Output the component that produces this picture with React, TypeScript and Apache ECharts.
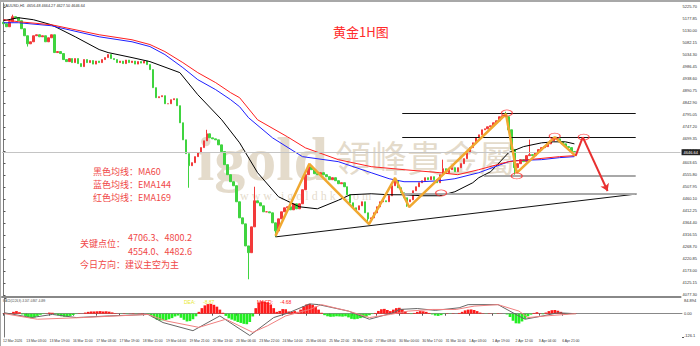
import React, { useEffect, useRef } from 'react';
import * as echarts from 'echarts';

// ---------- price data (2-hour bars) ----------
const firstOpen = 5165;
const closes = [
  5159, 5147, 5167, 5187, 5183, 5171, 5139, 5111, 5079, 5087,
  5111, 5115, 5107, 5111, 5087, 5103, 5115, 5044, 5048, 5040,
  5016, 5008, 5020, 5004, 5020, 5000, 4988, 5016, 5004, 5012,
  4998, 5010, 5004, 5016, 5024, 5036, 5020, 5016, 5004, 5010,
  5000, 5014, 5004, 5010, 4998, 5008, 5002, 5010, 4996, 4976,
  4904, 4864, 4868, 4872, 4840, 4840, 4856, 4860, 4832, 4764,
  4696, 4641, 4593, 4605, 4629, 4645, 4665, 4692, 4720, 4704,
  4700, 4696, 4676, 4649, 4597, 4557, 4529, 4513, 4449, 4385,
  4361, 4273, 4246, 4349, 4453, 4445, 4433, 4409, 4409, 4405,
  4365, 4333, 4381, 4409, 4425, 4429, 4417, 4441, 4421, 4441,
  4497, 4557, 4589, 4577, 4561, 4557, 4565, 4557, 4549, 4537,
  4545, 4533, 4521, 4525, 4509, 4477, 4445, 4425, 4417, 4433,
  4449, 4405, 4381, 4385, 4405, 4429, 4449, 4453, 4449, 4473,
  4513, 4533, 4505, 4485, 4465, 4449, 4457, 4493, 4509, 4525,
  4533, 4545, 4537, 4549, 4537, 4525, 4557, 4581, 4565, 4577,
  4585, 4569, 4585, 4601, 4621, 4645, 4665, 4684, 4704, 4716,
  4736, 4740, 4748, 4752, 4764, 4772, 4788, 4792, 4788, 4736,
  4657, 4585, 4601, 4617, 4609, 4633, 4637, 4633, 4645, 4657,
  4665, 4669, 4680, 4692, 4700, 4700, 4688, 4680, 4669, 4665,
  4649, 4647,
];
const wickHighs: [number, number][] = [
  [3, 5195], [68, 4736], [84, 4509], [102, 4601], [131, 4545], [147, 4617], [168, 4808], [176, 4697], [185, 4708],
];
const wickLows: [number, number][] = [
  [8, 5068], [62, 4505], [82, 4140], [91, 4309], [122, 4361], [135, 4429], [171, 4557],
];
const currentPrice = 4646.64;

// moving averages: [bar index, price]
const ma60Pts: [number, number][] = [
  [0, 5171], [5, 5183], [10, 5175], [16, 5155], [24, 5107], [32, 5056], [35, 5044], [43, 5024], [49, 5008],
  [59, 4964], [65, 4876], [73, 4776], [79, 4684], [85, 4565], [92, 4469], [99, 4429], [105, 4421], [112, 4455],
  [116, 4477], [123, 4481], [129, 4477], [134, 4477], [140, 4473], [146, 4473], [151, 4489], [157, 4525],
  [159, 4545], [163, 4569], [169, 4645], [174, 4669], [180, 4684], [184, 4688], [188, 4688], [191, 4680],
];
const ema144Pts: [number, number][] = [
  [0, 5163], [5, 5163], [16, 5151], [32, 5107], [43, 5087], [49, 5068], [54, 5036], [60, 4984], [65, 4936],
  [71, 4896], [76, 4856], [79, 4828], [82, 4784], [90, 4704], [100, 4629], [112, 4609], [123, 4565], [129, 4541],
  [134, 4529], [140, 4529], [146, 4533], [151, 4541], [159, 4565], [169, 4609], [171, 4613], [180, 4617],
  [186, 4625], [191, 4629],
];
const ema169Pts: [number, number][] = [
  [0, 5175], [5, 5167], [16, 5155], [32, 5115], [43, 5095], [49, 5076], [54, 5048], [60, 5004], [65, 4964],
  [71, 4924], [76, 4884], [79, 4864], [85, 4776], [95, 4708], [101, 4664], [112, 4617], [123, 4589], [134, 4577],
  [146, 4565], [152, 4557], [159, 4577], [169, 4609], [186, 4629], [191, 4633],
];

// analysis drawings: [bar index, price]
const zigzagPts: [number, number][] = [
  [91.0, 4313], [102.3, 4600], [122.3, 4360], [131.0, 4544], [135.7, 4428], [168.1, 4799], [171.7, 4564], [184.4, 4707], [191.4, 4632],
];
const forecastPts: [number, number][] = [[191.4, 4632], [193.8, 4707]];
const forecastArrow: [number, number][] = [[193.8, 4707], [202.1, 4492]];
const trendLine: [number, number][] = [[91.0, 4309], [211.8, 4480]];
const keyLevels = [4800.2, 4706.3, 4554.0, 4482.6];
const levelStarts = [133.4, 133.4, 160.7, 133.4];
const levelEnd = 211.5;
const circlePts: [number, number][] = [[168.4, 4803], [171.7, 4552], [184.4, 4711], [194.1, 4707], [146.4, 4484]];

// price axis tick labels
const priceTicks = [
  5225.70, 5177.85, 5130.00, 5082.15, 5034.30, 4986.45, 4938.60, 4890.75, 4842.90, 4795.05,
  4747.20, 4699.35, 4651.50, 4603.65, 4555.80, 4507.95, 4460.10, 4412.25, 4364.40, 4316.55,
  4268.70, 4220.85, 4173.00, 4125.15, 4077.30,
];

// MACD
const macdHist = [
  2, -2, 3, 10, 14, 8, -4, -12, -20, -25,
  -20, -12, -6, -2, 1, 6, 5, -4, -9, -14,
  -17, -16, -12, -7, -2, 2, 1, 6, 10, 12,
  12, 13, 14, 12, 13, 11, 7, 3, 1, -1,
  2, -2, 1, 2, -1, 1, 2, 0, -2, -10,
  -22, -33, -37, -36, -35, -30, -24, -15, -10, -22,
  -33, -42, -40, -30, -14, 10, 30, 45, 52, 53,
  48, 38, 22, 5, -12, -25, -32, -38, -45, -50,
  -55, -57, -45, -15, 30, 60, 67, 65, 62, 50,
  30, 10, 15, 25, 24, 12, 10, 14, 10, 22,
  40, 50, 53, 48, 38, 22, 5, -8, -14, -17,
  -16, -14, -15, -16, -14, -20, -28, -30, -28, -24,
  -20, -15, -8, -2, 4, 15, 24, 26, 20, 14,
  22, 30, 32, 25, 12, 2, -2, 4, 10, 14,
  13, 10, 4, -4, -10, -12, -8, -2, 2, -1,
  2, 0, 4, 10, 18, 22, 23, 20, 14, 6,
  2, -1, 2, 1, -1, 2, 1, 0, -4, -18,
  -38, -52, -53, -42, -28, -14, -5, 4, 8, 2,
  -3, 6, 14, 19, 20, 16, 10, 3, -3, 2,
  -2, 1,
];
const macdLineA: [number, number][] = [
  [0, 5], [9, -21], [16, -4], [24, -21], [35, -12], [48, -4], [53, -48], [63, -92], [72, -12], [82, -118],
  [90, -21], [95, 5], [102, 53], [105, 49], [115, 14], [122, -30], [130, 5], [132, 23], [138, 28], [144, 18],
  [152, 32], [155, 49], [165, 49], [171, -4], [174, -30], [180, -12], [185, 5], [191, 0],
];
const macdLineB: [number, number][] = [
  [0, 0], [11, -30], [26, -21], [48, -4], [54, -39], [65, -74], [74, -30], [83, -101], [88, -65], [94, -12],
  [102, 23], [106, 49], [115, 14], [122, -21], [129, -4], [135, 14], [143, 23], [151, 23], [157, 41], [165, 49],
  [172, 14], [175, -21], [181, -12], [191, 0],
];
const macdMax = 84.894;
const macdMin = -126.1;

// time axis labels, one every 16 hourly bars
const dateLabels = [
  '12 Mar 2026', '13 Mar 03:00', '13 Mar 19:00', '16 Mar 11:00', '17 Mar 03:00', '17 Mar 19:00', '18 Mar 11:00',
  '19 Mar 04:00', '19 Mar 21:00', '20 Mar 13:00', '23 Mar 06:00', '23 Mar 22:00', '24 Mar 14:00', '25 Mar 06:00',
  '25 Mar 22:00', '26 Mar 15:00', '27 Mar 08:00', '30 Mar 00:00', '30 Mar 17:00', '31 Mar 10:00', '1 Apr 03:00',
  '1 Apr 19:00', '2 Apr 12:00', '3 Apr 04:00', '6 Apr 21:00',
];

const SLOTS = 227;
const TINY = 'Liberation Sans, Arial, sans-serif';
const CJK = '"Noto Sans CJK SC", sans-serif';
const NOTE_RED = '#f04848';

export default function App() {
  const ref = useRef<HTMLDivElement>(null);
  useEffect(() => {
    document.body.style.margin = '0';
    const chart = echarts.init(ref.current!, null, { renderer: 'svg' });

    const slots = Array.from({ length: SLOTS }, (_, i) => String(i));
    const ohlc = closes.map((c, i) => {
      const o = i === 0 ? firstOpen : closes[i - 1];
      let h = Math.max(o, c);
      let l = Math.min(o, c);
      wickHighs.forEach(([k, v]) => { if (k === i) h = Math.max(h, v); });
      wickLows.forEach(([k, v]) => { if (k === i) l = Math.min(l, v); });
      return [o, c, l, h];
    });
    const tickHours = dateLabels.map((_, i) => i * 16);

    const levelLines = keyLevels.map((v, i) => {
      const black = i < 2;
      return [
        { coord: [levelStarts[i], v], lineStyle: { color: black ? '#111' : '#a8a8a8', width: black ? 1 : 2, type: 'solid' } },
        { coord: [levelEnd, v] },
      ];
    });

    const sparseLine = (data: [number, number][], color: string, width: number, z = 3) => ({
      type: 'line', xAxisIndex: 1, yAxisIndex: 0, data, symbol: 'none', showSymbol: false,
      lineStyle: { color, width }, z, silent: true,
    });

    const macdAxis = (value: number, text: string, va: string, showLine: boolean) => ({
      type: 'value', gridIndex: 1, position: 'right', min: macdMin, max: macdMax,
      axisLine: { show: showLine, lineStyle: { color: '#777', width: 1 } },
      axisTick: { show: true, customValues: [value], length: 2, lineStyle: { color: '#555' } },
      axisLabel: { show: true, customValues: [value], fontSize: 4, color: '#333', fontFamily: TINY, margin: 2,
        verticalAlign: va, formatter: () => text },
      splitLine: { show: false },
    });

    const option: any = {
      animation: false,
      backgroundColor: '#fff',
      grid: [
        { left: 2, top: 3, width: 680, height: 294 },
        { left: 2, top: 298, width: 680, height: 39 },
      ],
      xAxis: [
        { type: 'category', gridIndex: 0, data: slots, boundaryGap: true,
          axisLine: { show: true, lineStyle: { color: '#888', width: 2 } }, axisTick: { show: false }, axisLabel: { show: false }, splitLine: { show: false } },
        { type: 'value', gridIndex: 0, min: -0.5, max: SLOTS - 0.5, show: false },
        { type: 'category', gridIndex: 1, data: slots, boundaryGap: true, show: false },
        { type: 'value', gridIndex: 1, min: -0.5, max: SLOTS - 0.5, show: false },
        { type: 'value', gridIndex: 1, min: 0, max: 466.3, position: 'bottom',
          axisLine: { show: true, lineStyle: { color: '#888', width: 1 } },
          axisTick: { show: true, customValues: tickHours, length: 2, lineStyle: { color: '#555' } },
          axisLabel: { show: true, customValues: tickHours, fontSize: 3.4, color: '#333', fontFamily: TINY, margin: 2, align: 'left',
            showMinLabel: true, showMaxLabel: true, hideOverlap: false,
            formatter: (v: number) => dateLabels[Math.round(v / 16)] ?? '' },
          splitLine: { show: false } },
      ],
      yAxis: [
        { type: 'value', gridIndex: 0, position: 'right', min: 4069.3, max: 5241.65,
          axisLine: { show: true, lineStyle: { color: '#777', width: 1 } },
          axisTick: { show: true, customValues: priceTicks, length: 2, lineStyle: { color: '#555' } },
          axisLabel: { show: true, customValues: priceTicks, fontSize: 4, color: '#333', fontFamily: TINY, margin: 2,
            hideOverlap: false, formatter: (v: number) => v.toFixed(2) },
          splitLine: { show: false } },
        macdAxis(macdMax, '84.894', 'top', true),
        macdAxis(0, '0.00', 'middle', false),
        macdAxis(macdMin, String(macdMin), 'bottom', false),
      ],
      series: [
        {
          type: 'candlestick', xAxisIndex: 0, yAxisIndex: 0, data: ohlc, barWidth: 2, z: 2,
          itemStyle: { color: '#f23a3a', color0: '#3fd43f', borderColor: '#f23a3a', borderColor0: '#3fd43f', borderWidth: 1 },
          markLine: {
            silent: true, symbol: ['none', 'none'],
            data: [{ yAxis: currentPrice }],
            lineStyle: { color: '#c4c4c4', width: 1, type: 'solid' },
            label: { show: true, position: 'end', distance: 1, formatter: currentPrice.toFixed(2), backgroundColor: '#222',
              color: '#fff', fontSize: 4, fontFamily: TINY, padding: [1, 2] },
          },
        },
        sparseLine(ma60Pts, '#000', 1),
        sparseLine(ema144Pts, '#1f1fff', 1),
        sparseLine(ema169Pts, '#ff1f1f', 1),
        {
          ...sparseLine(trendLine, '#111', 1, 4),
          markLine: { silent: true, symbol: ['none', 'none'], label: { show: false }, data: levelLines },
        },
        sparseLine(zigzagPts, '#f0a830', 2.5, 6),
        {
          ...sparseLine(forecastPts, '#e83030', 2, 6),
          markLine: { silent: true, symbol: ['none', 'arrow'], symbolSize: 7, label: { show: false },
            lineStyle: { color: '#e83030', width: 2, type: 'solid' },
            data: [[{ coord: forecastArrow[0] }, { coord: forecastArrow[1] }]] },
        },
        { type: 'scatter', xAxisIndex: 1, yAxisIndex: 0, data: circlePts, symbol: 'circle', symbolSize: [11, 6], z: 7, silent: true,
          itemStyle: { color: 'rgba(0,0,0,0)', borderColor: '#ff3030', borderWidth: 1 } },
        { type: 'bar', xAxisIndex: 2, yAxisIndex: 1, barCategoryGap: '10%', silent: true,
          data: macdHist.map((v) => ({ value: v, itemStyle: { color: v >= 0 ? '#ff1a1a' : '#22ee22' } })) },
        { type: 'line', xAxisIndex: 3, yAxisIndex: 1, data: macdLineA, symbol: 'none', lineStyle: { color: '#666', width: 1 }, silent: true },
        { type: 'line', xAxisIndex: 3, yAxisIndex: 1, data: macdLineB, symbol: 'none', lineStyle: { color: '#f08080', width: 1 }, silent: true },
      ],
      graphic: [
        { type: 'rect', left: 0, top: 0, shape: { width: 700, height: 2 }, style: { fill: '#a8a8a8' }, z: 10 },
        { type: 'rect', left: 0, top: 0, shape: { width: 1, height: 346 }, style: { fill: '#a8a8a8' }, z: 10 },
        // watermark
        { type: 'text', left: 197, top: 128, z: 0, silent: true,
          style: { text: 'igold', fill: 'rgba(210,195,168,0.6)', font: 'bold 62px "Liberation Serif", serif' } },
        { type: 'text', left: 335, top: 138, z: 0, silent: true,
          style: { text: '領峰貴金屬', fill: 'rgba(210,195,168,0.6)', font: '36px "Noto Sans CJK TC", sans-serif' } },
        { type: 'text', left: 240, top: 190, z: 0, silent: true,
          style: { text: 'w w w . i g o l d h k . c o m', fill: 'rgba(210,195,168,0.6)', font: '12px "Liberation Serif", serif' } },
        // header texts
        { type: 'text', left: 3, top: 4, style: { text: 'XAUUSD,H1  4656.48 4664.27 4627.50 4646.64', fill: '#333', font: `3.8px ${TINY}` } },
        { type: 'text', left: 3, top: 300, style: { text: 'MACD(12,26,9) -3.167 -0.867 -4.099', fill: '#333', font: `2.6px ${TINY}` } },
        { type: 'text', left: 184, top: 299, style: { text: 'DEA:', fill: '#e8e830', font: `5px ${TINY}` } },
        { type: 'text', left: 203, top: 299, style: { text: '-8.87', fill: '#e8e830', font: `5px ${TINY}` } },
        { type: 'text', left: 257, top: 299, style: { text: 'MACD:', fill: '#ff2020', font: `5px ${TINY}` } },
        { type: 'text', left: 280, top: 299, style: { text: '-4.68', fill: '#ff2020', font: `5px ${TINY}` } },
        // title and notes
        { type: 'text', left: 333, top: 25, style: { text: '黄金1H图', fill: '#ff2a2a', font: `13px ${CJK}` } },
        { type: 'text', left: 93, top: 167, style: { text: '黑色均线：MA60', fill: NOTE_RED, font: `9px ${CJK}` } },
        { type: 'text', left: 93, top: 180, style: { text: '蓝色均线：EMA144', fill: NOTE_RED, font: `9px ${CJK}` } },
        { type: 'text', left: 93, top: 193, style: { text: '红色均线：EMA169', fill: NOTE_RED, font: `9px ${CJK}` } },
        { type: 'text', left: 80, top: 239, style: { text: '关键点位：', fill: NOTE_RED, font: `9px ${CJK}` } },
        { type: 'text', left: 128, top: 233, style: { text: '4706.3、4800.2', fill: NOTE_RED, font: `9px ${CJK}` } },
        { type: 'text', left: 128, top: 247, style: { text: '4554.0、4482.6', fill: NOTE_RED, font: `9px ${CJK}` } },
        { type: 'text', left: 80, top: 260, style: { text: '今日方向：建议主空为主', fill: NOTE_RED, font: `9px ${CJK}` } },
      ],
    };
    chart.setOption(option);
    return () => chart.dispose();
  }, []);
  return <div ref={ref} style={{ width: 700, height: 346 }} />;
}
